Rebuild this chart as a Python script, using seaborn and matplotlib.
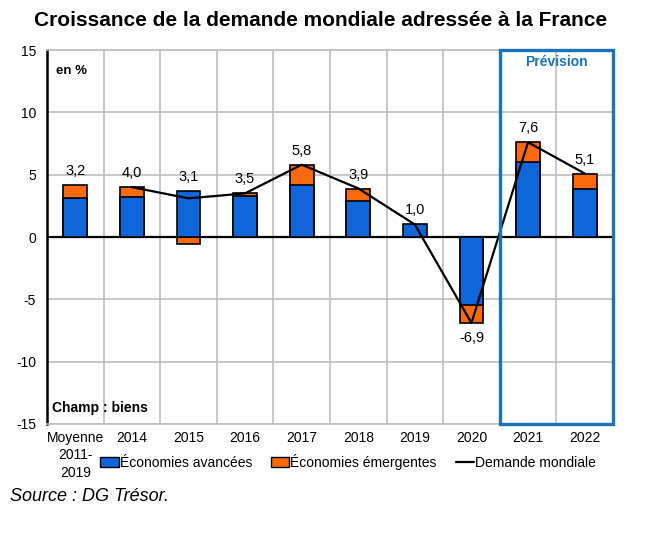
import pandas as pd
import matplotlib.pyplot as plt
from matplotlib.patches import Rectangle, Patch
from matplotlib.lines import Line2D
import seaborn as sns

# --- données ---
CATEGORIES = ['Moyenne\n2011-\n2019', '2014', '2015', '2016', '2017',
              '2018', '2019', '2020', '2021', '2022']
AVANCEES = [3.1, 3.2, 3.7, 3.25, 4.15, 2.85, 1.05, -5.45, 6.0, 3.85]
EMERGENTES = [1.05, 0.85, -0.6, 0.3, 1.6, 1.0, 0.0, -1.45, 1.65, 1.2]
DEMANDE = [4.0, 3.1, 3.5, 5.8, 3.9, 1.0, -6.9, 7.6, 5.1]  # de 2014 à 2022
ETIQUETTES = ['3,2', '4,0', '3,1', '3,5', '5,8', '3,9', '1,0', '-6,9', '7,6', '5,1']

BLUE = '#0F66DA'
ORANGE = '#FA6A0C'
BOX = '#1A74BA'
GRID = '#BFBFBF'

sns.set_style('white')
plt.rcParams['font.family'] = ['Liberation Sans', 'DejaVu Sans']
plt.rcParams['axes.unicode_minus'] = False
plt.rcParams['text.color'] = 'black'
plt.rcParams['xtick.color'] = 'black'
plt.rcParams['ytick.color'] = 'black'

df = pd.DataFrame({'cat': CATEGORIES, 'av': AVANCEES, 'em': EMERGENTES})
# barre "extérieure" : cumul si même signe, sinon la contribution seule
df['outer'] = [a + e if a * e > 0 else e for a, e in zip(df['av'], df['em'])]

fig = plt.figure(figsize=(6.46, 5.35), dpi=100)
ax = fig.add_axes([0.0728, 0.2075, 0.876, 0.699])

sns.barplot(data=df, x='cat', y='outer', color=ORANGE, saturation=1,
            width=0.42, edgecolor='black', linewidth=1.2, ax=ax, zorder=3)
sns.barplot(data=df, x='cat', y='av', color=BLUE, saturation=1,
            width=0.42, edgecolor='black', linewidth=1.2, ax=ax, zorder=3)

line_df = pd.DataFrame({'pos': range(1, len(CATEGORIES)), 'val': DEMANDE})
sns.lineplot(data=line_df, x='pos', y='val', color='black', linewidth=1.6,
             ax=ax, zorder=4)

# étiquettes des totaux
for i, lab in enumerate(ETIQUETTES):
    top = max(df['outer'][i], df['av'][i], 0)
    bot = min(df['outer'][i], df['av'][i], 0)
    if lab.startswith('-'):
        ax.annotate(lab, (i, bot), xytext=(0, -6), textcoords='offset points',
                    ha='center', va='top', fontsize=10.5)
    else:
        ax.annotate(lab, (i, top), xytext=(0, 5), textcoords='offset points',
                    ha='center', va='bottom', fontsize=10.5)

ax.set_xlim(-0.5, len(CATEGORIES) - 0.5)
ax.set_ylim(-15, 15)
ax.set_yticks(range(-15, 16, 5))
ax.set_xticks(range(len(CATEGORIES)))
ax.set_xticklabels(CATEGORIES, fontsize=10, linespacing=1.3)
ax.tick_params(axis='y', labelsize=10, length=0, pad=8)
ax.tick_params(axis='x', length=0, pad=5)
ax.set_xticks([i + 0.5 for i in range(len(CATEGORIES) - 1)], minor=True)
ax.tick_params(axis='x', which='minor', length=0)
ax.grid(axis='y', color=GRID, linewidth=1.2, zorder=0)
ax.grid(axis='x', which='minor', color=GRID, linewidth=1.2, zorder=0)
ax.set_axisbelow(True)
ax.set_xlabel('')
ax.set_ylabel('')
ax.axhline(0, color='black', linewidth=1.6, zorder=2)
for s in ['top', 'right', 'bottom']:
    ax.spines[s].set_color(GRID)
    ax.spines[s].set_linewidth(1.2)
ax.spines['left'].set_color('black')
ax.spines['left'].set_linewidth(1.8)

# encadré prévision
ax.add_patch(Rectangle((7.5, -15), 2, 30, fill=False, edgecolor=BOX,
                       linewidth=2.4, clip_on=False, zorder=5))
ax.text(8.5, 14.6, 'Prévision', color=BOX, fontsize=10, fontweight='bold',
        ha='center', va='top')

ax.text(-0.35, 13.8, 'en %', fontsize=9.5, fontweight='bold', va='top')
ax.text(-0.42, -13.7, 'Champ : biens', fontsize=10, fontweight='bold',
        va='center')

fig.text(0.497, 0.961, 'Croissance de la demande mondiale adressée à la France',
         ha='center', va='center', fontsize=15, fontweight='bold')
fig.text(0.015, 0.072, 'Source : DG Trésor.', fontsize=13, style='italic',
         va='center')

handles = [Patch(facecolor=BLUE, edgecolor='black'),
           Patch(facecolor=ORANGE, edgecolor='black'),
           Line2D([], [], color='black', linewidth=1.6)]
fig.legend(handles, ['Économies avancées', 'Économies émergentes',
                     'Demande mondiale'],
           loc='center', bbox_to_anchor=(0.539, 1 - 462 / 535), ncol=3,
           frameon=False, fontsize=10, handlelength=1.3, handleheight=0.7,
           handletextpad=0.1, columnspacing=1.35)

fig.savefig('out.png', dpi=100)
